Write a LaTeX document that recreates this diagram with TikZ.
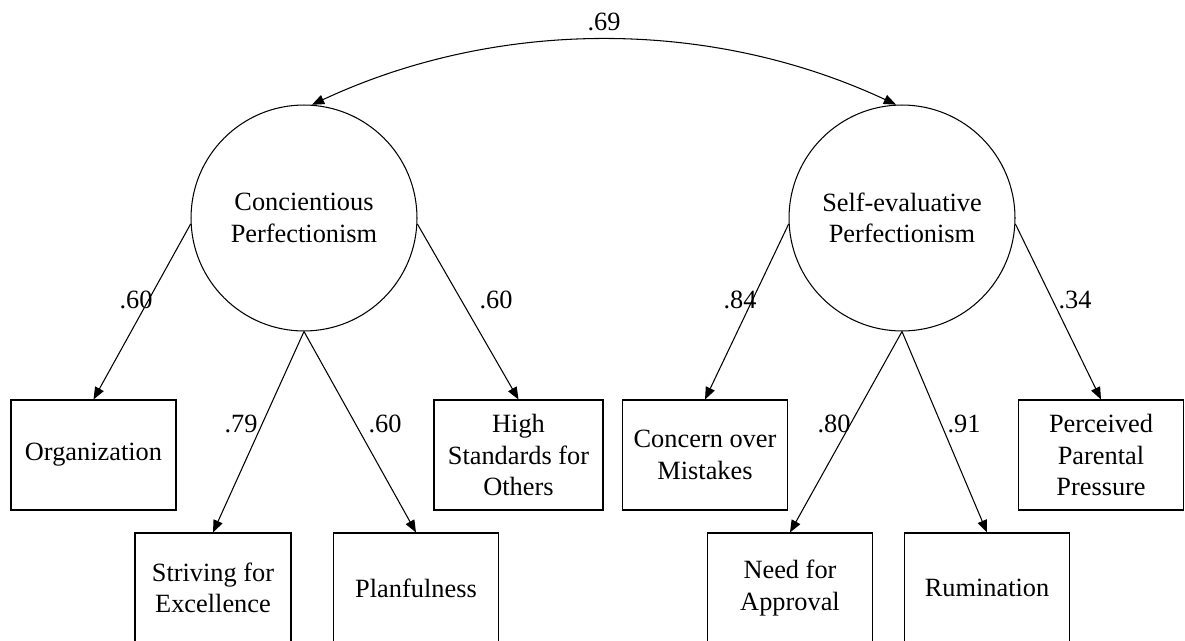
\documentclass[tikz,border=0pt]{standalone}
\usepackage{fontspec}
\setmainfont{Liberation Serif}
\usetikzlibrary{shapes.geometric, arrows.meta}
\tikzstyle{latent} = [
    circle,
    minimum size=4.52cm,
    inner sep=0pt,
    align=center,
    draw=black
]
\tikzstyle{indicator} = [
    rectangle,
    minimum width=3.3cm,
    minimum height=2.2cm,
    align=center,
    draw=black
]
\tikzstyle{loading} = [inner sep=1pt]
\tikzstyle{arrow} = [semithick,->,>={Triangle[length=7pt,width=5.5pt]}]

\begin{document}
\begin{tikzpicture}[x=0.02cm, y=0.02cm, semithick,
    font=\fontsize{15}{18}\selectfont]
\useasboundingbox (0,0) rectangle (1185,640);

\node (cons) [latent] at (304,422) {Concientious\\Perfectionism};

\node (self) [latent] at (902,422) {Self-evaluative\\Perfectionism};

\node (org) [indicator] at (93.5,185) {Organization};

\node (striv) [indicator, minimum width=3.12cm] at (213,52)
{Striving for\\Excellence};

\node (plan) [indicator] at (416,52) {Planfulness};

\node (high) [indicator, minimum width=3.38cm] at (518.5,185)
{High\\Standards for\\Others};

\node (mist) [indicator] at (705,185) {Concern over\\Mistakes};

\node (appr) [indicator] at (790,52) {Need for\\Approval};

\node (rum) [indicator] at (987,52) {Rumination};

\node (press) [indicator] at (1101,185)
{Perceived\\Parental\\Pressure};

% loadings
\node (l1) [loading] at (136,340) {.60};
\node (l2) [loading] at (241,216) {.79};
\node (l3) [loading] at (385,216) {.60};
\node (l4) [loading] at (496,340) {.60};
\node (l5) [loading] at (740,340) {.84};
\node (l6) [loading] at (834,216) {.80};
\node (l7) [loading] at (964,216) {.91};
\node (l8) [loading] at (1075,340) {.34};

\draw [arrow] (cons.183) -- (org.north);
\draw [arrow] (cons.south) -- (striv.north);
\draw [arrow] (cons.south) -- (plan.north);
\draw [arrow] (cons.-3) -- (high.north);
\draw [arrow] (self.183) -- (mist.north);
\draw [arrow] (self.south) -- (appr.north);
\draw [arrow] (self.south) -- (rum.north);
\draw [arrow] (self.-3) -- (press.north);

% correlation
\draw [arrow, <->] (cons.86) to[out=25, in=155, looseness=0.9]
    node (corr) [loading, midway, above=4pt] {.69} (self.93);

\end{tikzpicture}
\end{document}
